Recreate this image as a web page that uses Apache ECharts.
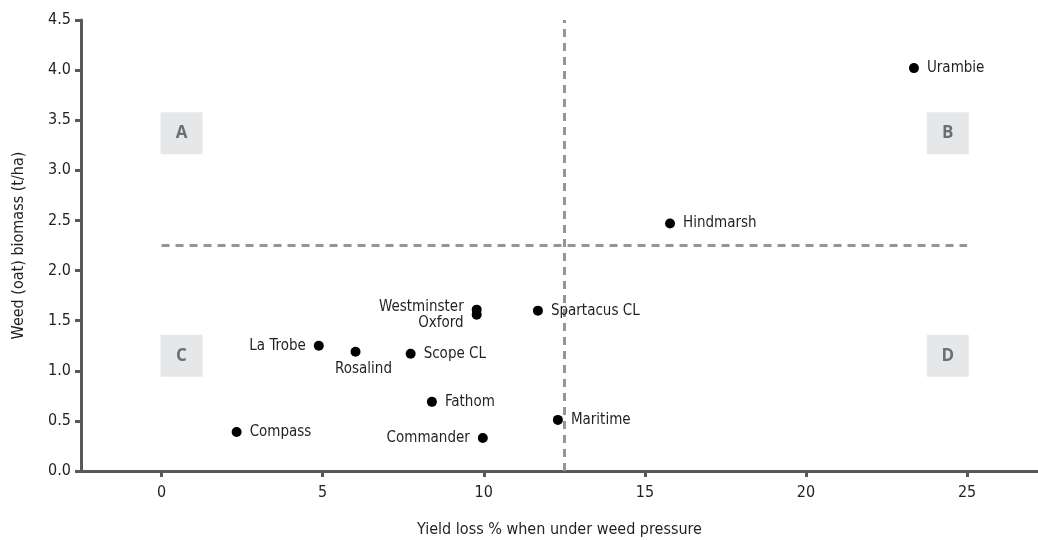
<!DOCTYPE html>
<html><head><meta charset="utf-8">
<script src="https://cdn.jsdelivr.net/npm/echarts@6/dist/echarts.min.js"></script>
<style>html,body{margin:0;padding:0;background:#fff}#c{width:1038px;height:540px}</style>
</head><body><div id="c"></div>
<script>
const varieties = ['Urambie','Hindmarsh','Westminster','Oxford','Spartacus CL','Scope CL','La Trobe','Rosalind','Fathom','Maritime','Commander','Compass'];
const yieldLoss = [23.35, 15.78, 9.78, 9.78, 11.68, 7.73, 4.88, 6.02, 8.39, 12.30, 9.97, 2.33];
const biomass   = [4.02, 2.47, 1.61, 1.56, 1.60, 1.17, 1.25, 1.19, 0.69, 0.51, 0.33, 0.39];
const labelSide = ['right','right','left','left','right','right','left','bottom','right','right','left','right'];
const quadrantNames = ['A','B','C','D'];
const quadrantX = [0.62, 24.4, 0.62, 24.4];
const quadrantY = [3.37, 3.37, 1.15, 1.15];
const xThreshold = 12.5, yThreshold = 2.25;
const xTicks = [0,5,10,15,20,25];

const font = "'Liberation Sans Narrow','DejaVu Sans Condensed',sans-serif";
const ink = '#231f20';
const axisGray = '#58595b';

const pts = varieties.map((n,i)=>{
  const side = labelSide[i];
  const lab = {position: side, distance: 8};
  if (n === 'Rosalind') { lab.distance = 5; lab.offset = [8, 0]; }
  if (n === 'Westminster') { lab.offset = [0, -3]; }
  if (n === 'Oxford') { lab.offset = [0, 8]; }
  return {name:n, value:[yieldLoss[i], biomass[i]], label: lab};
});
const quads = quadrantNames.map((n,i)=>({name:n, value:[quadrantX[i], quadrantY[i]]}));

const chart = echarts.init(document.getElementById('c'), null, {renderer:'canvas'});
chart.setOption({
  animation:false,
  backgroundColor:'#fff',
  grid:{left:81, top:20, right:0, bottom:69, containLabel:false, outerBoundsMode:'none'},
  xAxis:{
    type:'value', min:-2.5, max:27.2,
    name:'Yield loss % when under weed pressure', nameLocation:'middle', nameGap:51,
    nameTextStyle:{fontFamily:font, fontSize:16, color:ink},
    axisLine:{onZero:false, lineStyle:{color:axisGray, width:3}},
    axisTick:{length:6, lineStyle:{color:axisGray, width:3}, customValues: xTicks},
    axisLabel:{fontFamily:font, fontSize:16, color:ink, margin:14, customValues: xTicks},
    splitLine:{show:false}
  },
  yAxis:{
    type:'value', min:0, max:4.5, interval:0.5,
    name:'Weed (oat) biomass (t/ha)', nameLocation:'middle', nameGap:54,
    nameTextStyle:{fontFamily:font, fontSize:16, color:ink},
    axisLine:{show:true, onZero:false, lineStyle:{color:axisGray, width:3}},
    axisTick:{show:true, length:6, lineStyle:{color:axisGray, width:3}},
    axisLabel:{fontFamily:font, fontSize:16, color:ink, margin:10, formatter:v=>v.toFixed(1)},
    splitLine:{show:false}
  },
  series:[
    {
      type:'scatter', data:quads, symbol:'rect', symbolSize:42, z:1,
      itemStyle:{color:'#e6e7e8', opacity:1},
      label:{show:true, position:'inside', formatter:'{b}', fontFamily:"'Open Sans','DejaVu Sans',sans-serif", fontWeight:'bold', fontSize:17, color:'#6d6e71'},
      silent:true
    },
    {
      type:'scatter', data:pts, symbol:'circle', symbolSize:10, z:5,
      itemStyle:{color:'#000', opacity:1},
      label:{show:true, formatter:'{b}', fontFamily:font, fontSize:15, color:ink},
      markLine:{
        silent:true, symbol:['none','none'], z:2,
        lineStyle:{color:'#939598', width:3, type:[8,6]},
        label:{show:false},
        data:[
          [{coord:[0,yThreshold]},{coord:[25,yThreshold]}],
          {xAxis:xThreshold}
        ]
      }
    }
  ]
});
</script></body></html>
